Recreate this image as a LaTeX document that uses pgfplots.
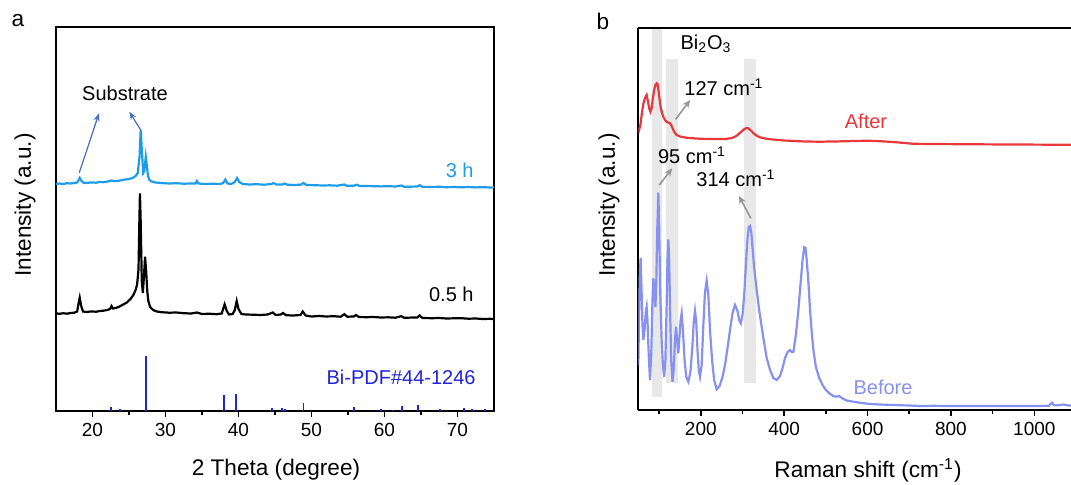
\documentclass[border=0pt]{standalone}
\usepackage{fontspec}
\setmainfont{Liberation Sans}
\usepackage{pgfplots}
\pgfplotsset{compat=1.18}
\usetikzlibrary{arrows.meta}

\definecolor{sky}{RGB}{30,155,233}
\definecolor{refblue}{RGB}{35,35,215}
\definecolor{arrblue}{RGB}{70,110,190}
\definecolor{redline}{RGB}{232,56,60}
\definecolor{bluline}{RGB}{135,145,240}
\definecolor{band}{RGB}{232,232,232}
\definecolor{arrgray}{RGB}{150,150,150}

\newcommand{\lab}{\fontsize{11.3}{13}\selectfont}
\newcommand{\ann}{\fontsize{10}{12}\selectfont}

\pgfplotsset{
  panel/.style={
    scale only axis, anchor=south west,
    axis line style={line width=1pt},
    tick style={line width=0.8pt, black},
    tick align=outside,
    major tick length=2.8pt, minor tick length=1.8pt,
    ytick=\empty, xtick pos=left,
    xticklabel style={font=\fontsize{9.5}{11}\selectfont},
    /pgf/number format/assume math mode=true,
    /pgf/number format/1000 sep={},
  }
}

\begin{document}
\begin{tikzpicture}
\useasboundingbox (0,0) rectangle (535.5pt,242pt);

% ---- panel a: XRD
\begin{axis}[panel, at={(28pt,36.5pt)}, width=219pt, height=192pt,
  xmin=15, xmax=75, ymin=0, ymax=384,
  xtick={20,30,...,70}, minor xtick={25,35,...,65}]
\addplot[refblue, line width=0.9pt, ycomb] coordinates {
 (22.5,4)(23.8,2)(27.28,55)(38.0,16)(39.7,17)(44.6,3)(46.0,3.5)(46.4,2)
 (48.9,8)(55.85,4)(59.5,2.5)(61.2,1.5)(62.35,5)(64.6,6.5)(67.6,2)
 (70.9,3.5)(71.95,2.5)(73.8,2)};
\addplot[black, line width=1.1pt] coordinates {
 (15.0,97.7)(15.5,97.2)(16.0,97.8)(16.5,97.3)(17.0,98)(17.5,98.3)(17.9,99.5)
 (18.1,108)(18.25,113.3)(18.45,105)(18.7,99.5)(19.2,99)(19.8,99.6)(20.5,99.3)
 (21.0,100)(21.5,100.3)(22.0,101)(22.4,102)(22.6,105)(22.8,102.5)(23.2,103)
 (23.7,104.5)(24.2,106.5)(24.7,108.5)(25.2,112)(25.6,116)(25.9,121)(26.1,126)
 (26.3,141)(26.42,190)(26.5,217.7)(26.6,190)(26.75,130)(26.9,118)(27.05,135)
 (27.2,154.3)(27.35,140)(27.5,120)(27.65,110)(27.9,104)(28.3,101)(28.8,99.5)
 (29.5,98.8)(30.5,98.3)(31.5,98.5)(32.5,97.8)(33.5,97.5)(34.3,98.5)(35.0,97)
 (36.0,97.3)(37.0,96.8)(37.7,97.5)(38.1,106.7)(38.4,100)(38.7,96.5)(39.2,97)
 (39.5,101)(39.75,110)(40.0,102)(40.4,97)(41.0,96.5)(42.0,96.3)(43.0,96)
 (44.0,96.5)(44.7,98.5)(45.1,96)(45.8,96.5)(46.1,98)(46.5,95.8)(47.5,95.5)
 (48.5,96)(48.8,99.5)(49.2,95.5)(50.0,94.5)(51.0,95)(52.0,94.5)(53.0,94.8)
 (54.0,94.3)(54.5,96.8)(54.9,94.3)(55.8,94.5)(56.1,96)(56.5,94)(57.5,93.8)
 (58.5,94)(59.5,93.5)(60.5,93.7)(61.5,93.3)(62.3,94.8)(62.7,93.2)(63.5,93.4)
 (64.5,93.5)(64.8,95.5)(65.2,93)(66.5,92.8)(67.5,93)(68.5,92.5)(69.5,92.7)
 (70.5,92.8)(71.5,92.3)(72.5,92.5)(73.5,92)(74.5,92.2)(75,91.8)};
\addplot[sky, line width=1.1pt] coordinates {
 (15.0,227)(15.5,227.5)(16.0,227)(16.5,227.8)(17.0,227.5)(17.5,228)(17.9,228.5)
 (18.1,231)(18.25,233)(18.4,231)(18.7,228.5)(19.2,228)(19.8,228.6)(20.5,228.3)
 (21.0,229)(21.5,228.8)(22.0,229.3)(22.6,230.5)(23.0,229.8)(23.5,230.2)
 (24.0,230.8)(24.5,231.5)(25.0,232)(25.5,233)(25.9,235)(26.2,238)(26.45,255)
 (26.6,281)(26.75,262)(26.95,238)(27.1,240)(27.3,254)(27.45,245)(27.6,235)
 (27.8,231)(28.1,229.5)(28.6,228.5)(29.5,228)(30.5,227.5)(31.5,227.8)
 (32.5,227.3)(33.5,227.5)(34.1,227.5)(34.3,230)(34.5,227.5)(35.5,227)
 (36.5,227.3)(37.5,227)(37.9,228)(38.2,231.5)(38.5,227.5)(39.0,227)(39.5,229)
 (39.8,233)(40.1,229)(40.6,227)(41.5,226.5)(42.5,226.8)(43.5,226.3)(44.5,227)
 (44.8,228)(45.2,226.5)(46.0,226.5)(46.3,227.5)(46.7,226.3)(47.5,226)
 (48.5,226.3)(48.9,228)(49.3,226)(50.5,225.8)(51.5,225.5)(52.5,225.7)
 (53.5,225.3)(54.5,226.5)(54.8,225.3)(55.8,225.3)(56.2,226.3)(56.6,225)
 (57.5,225)(58.5,224.8)(59.5,224.6)(60.5,224.8)(61.5,224.5)(62.3,225.5)
 (62.7,224.3)(63.5,224.3)(64.5,224.5)(64.8,225.8)(65.2,224.2)(66.5,224)
 (67.5,224.3)(68.5,223.8)(69.5,224)(70.5,223.7)(71.5,224)(72.5,223.6)
 (73.5,223.8)(74.5,223.5)(75,223.7)};
\end{axis}

% ---- panel b: Raman
\begin{axis}[panel, at={(319.15pt,37pt)}, width=216.35pt, height=191.25pt,
  axis y line*=left,
  xmin=50, xmax=1088, ymin=0, ymax=382.5,
  xtick={200,400,...,1000}, minor xtick={100,300,...,900}]
\addplot[fill=band, draw=none] coordinates {(82.5,13.3)(107,13.3)(107,380.7)(82.5,380.7)} -- cycle;
\addplot[fill=band, draw=none] coordinates {(116.6,26.7)(144.3,26.7)(144.3,350.7)(116.6,350.7)} -- cycle;
\addplot[fill=band, draw=none] coordinates {(304,26.7)(331.5,26.7)(331.5,350.7)(304,350.7)} -- cycle;
\addplot[bluline, line width=1.1pt] coordinates {
 (50,45)(52,100)(54,140)(55.7,152)(57.5,125)(60,85)(62,70)(65,80)(68,98)(70,103)
 (72,90)(75,55)(78,30)(81,55)(84,110)(86,131.7)(88.5,118)(91,103)(93,125)
 (95.5,180)(98,217.3)(100,185)(102.5,120)(106,70)(109,45)(112,33.3)(115,50)
 (118,105)(120,150)(122,170.7)(124,150)(126.5,95)(129,50)(132,28.3)(135,40)
 (138,70)(140.5,83.3)(143,70)(146,56.7)(149,75)(151.5,90)(154,96.7)(157,80)
 (161,50)(165,33)(170,28.3)(175,38)(180,65)(183,88)(186,99)(189,88)(192,60)
 (195,40)(198,33.3)(202,45)(206,85)(210,118)(214,129.3)(218,115)(222,80)
 (227,50)(232,30)(238,20.7)(245,24)(252,33)(258,45)(264,62)(270,80)(276,97)
 (282,105)(288,99)(292,90)(296,86.7)(300,95)(304,115)(308,145)(312,172)
 (315,183)(318,184)(321,178)(324,162)(328,142)(334,120)(340,100)(350,72)
 (358,52)(366,40)(374,32)(382,30)(390,34)(396,42)(402,52)(408,58)(414,60)
 (418,58)(422,58)(428,75)(434,100)(440,130)(444,150)(448,162.7)(451,162)
 (454,150)(458,128)(462,100)(466,78)(470,60)(476,43)(484,32)(492,25)(500,20)
 (510,16)(520,13.5)(527,13.5)(532,14)(540,11.5)(550,9.5)(570,8)(590,6.8)
 (606,6)(630,5.5)(660,5)(700,4.5)(726,4)(760,4.2)(800,3.9)(850,4.1)(900,4)
 (950,4.1)(1000,4)(1035,4.2)(1040,6.5)(1043,7.3)(1046,5)(1050,4.6)(1060,4.8)
 (1070,5.5)(1080,4.6)(1088,4.5)};
\addplot[redline, line width=1.1pt] coordinates {
 (50,277)(55,285)(59,298)(62,306)(66,312)(70,315)(73,309)(76,302)(79,298.3)
 (82,302)(85,312)(88,320)(91,325)(94,326.7)(96,326)(98,321)(101,311)(104,302)
 (107,297)(110,293.3)(114,290)(118,288)(122,287.5)(126,286.7)(130,284)
 (134,280)(138,277)(142,275)(150,273.5)(165,272.3)(182,271.7)(200,271.2)
 (230,271)(260,271)(275,272)(285,274)(295,277.5)(303,280.5)(309,282)
 (314,281.7)(320,279.5)(327,276.5)(335,274)(342,272.7)(360,271)(400,269.5)
 (450,268.5)(486,268.3)(530,268.6)(570,269)(600,269.3)(630,268.8)(660,268)
 (690,267)(709,266.2)(760,266)(820,265.8)(900,265.6)(1000,265.4)(1088,265.2)};
\end{axis}

% ---- labels and notes, placed in image pixels (origin top left)
\begin{scope}[x=0.5pt, y=-0.5pt, yshift=242pt]
\node[font=\lab] at (18,21) {a};
\node[font=\lab] at (603,21) {b};
\node[font=\lab, rotate=90] at (25,205) {Intensity (a.u.)};
\node[font=\lab, rotate=90] at (609,205) {Intensity (a.u.)};
\node[font=\lab] at (276,470) {2 Theta (degree)};
\node[font=\lab] at (868,470) {Raman shift (cm\textsuperscript{-1})};

\node[font=\ann] at (125,93) {Substrate};
\draw[arrblue, line width=0.6pt, -{Stealth[length=4pt,width=3pt]}] (79.3,172.7) -- (99,113.3);
\draw[arrblue, line width=0.6pt, -{Stealth[length=4pt,width=3pt]}] (140.7,130) -- (129.3,111.7);
\node[font=\ann, text=sky, anchor=east, inner sep=0pt] at (474,170) {3 h};
\node[font=\ann, anchor=east, inner sep=0pt] at (474,294) {0.5 h};
\node[font=\ann, text=refblue, anchor=east, inner sep=0pt] at (476,377) {Bi-PDF\#44-1246};

\node[font=\ann] at (706,44) {Bi\textsubscript{2}O\textsubscript{3}};
\node[font=\ann] at (724,87) {127 cm\textsuperscript{-1}};
\node[font=\ann] at (692,155) {95 cm\textsuperscript{-1}};
\node[font=\ann] at (736,178) {314 cm\textsuperscript{-1}};
\draw[arrgray, line width=0.8pt, -{Stealth[length=4pt,width=3.5pt]}] (675.6,119.3) -- (690.2,100);
\draw[arrgray, line width=0.8pt, -{Stealth[length=4pt,width=3.5pt]}] (659.3,185) -- (672.2,168.3);
\draw[arrgray, line width=0.8pt, -{Stealth[length=4pt,width=3.5pt]}] (750.8,218.3) -- (739,196);
\node[font=\ann, text=redline] at (866,121) {After};
\node[font=\ann, text=bluline] at (883,387) {Before};
\end{scope}
\end{tikzpicture}
\end{document}
